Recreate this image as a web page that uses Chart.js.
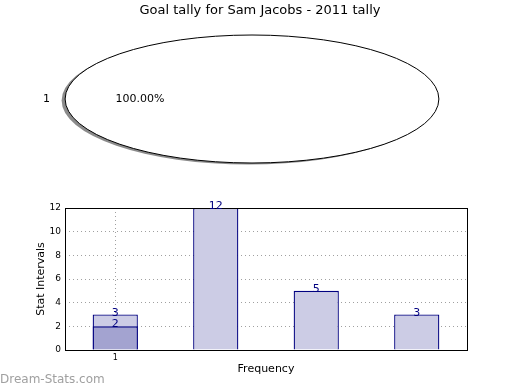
<!DOCTYPE html>
<html>
<head>
<meta charset="utf-8">
<script src="https://cdn.jsdelivr.net/npm/chart.js@4/dist/chart.umd.min.js"></script>
<style>
  body { margin: 0; background: #fff; }
  #wrap { position: relative; width: 520px; height: 390px; }
  canvas { position: absolute; left: 0; top: 0; }
  #mark { position: absolute; left: 0; top: 372px; font: 12px "DejaVu Sans", sans-serif; color: #a0a0a0; }
</style>
</head>
<body>
<div id="wrap">
  <canvas id="pie" width="520" height="390"></canvas>
  <canvas id="bars" width="520" height="390"></canvas>
  <div id="mark">Dream-Stats.com</div>
</div>
<script>
// pie data
const chartTitle = 'Goal tally for Sam Jacobs - 2011 tally';
const pieLabels = ['1'];
const pieValues = [1];

// bar data
const categories = ['1', '2', '3', '4'];
const tickLabels = ['1']; // only the first position carries a tick
const totals = [3, 12, 5, 3];
const overlay = [2, null, null, null];

const FONT = '"DejaVu Sans", sans-serif';
const sx = 2.92; // horizontal stretch of the pie

// stretch the pie into an ellipse, with a shadow and thin outline
const ellipsePie = {
  id: 'ellipsePie',
  beforeDatasetsDraw(chart) {
    const arc = chart.getDatasetMeta(0).data[0];
    const ctx = chart.ctx;
    ctx.save();
    ctx.fillStyle = 'rgba(110,110,110,0.8)';
    ctx.beginPath();
    ctx.ellipse(arc.x - 3.5, arc.y + 1.5, arc.outerRadius * sx, arc.outerRadius, 0, 0, Math.PI * 2);
    ctx.fill();
    ctx.restore();
    ctx.save();
    ctx.translate(arc.x, arc.y);
    ctx.scale(sx, 1);
    ctx.translate(-arc.x, -arc.y);
  },
  afterDatasetsDraw(chart) {
    const ctx = chart.ctx;
    ctx.restore();
    const meta = chart.getDatasetMeta(0);
    const arc = meta.data[0];
    ctx.save();
    ctx.strokeStyle = '#000';
    ctx.lineWidth = 1;
    ctx.beginPath();
    ctx.ellipse(arc.x, arc.y, arc.outerRadius * sx, arc.outerRadius, 0, 0, Math.PI * 2);
    ctx.stroke();
    // labels like matplotlib: name outside, percent inside
    const total = pieValues.reduce((a, b) => a + b, 0);
    ctx.fillStyle = '#000';
    ctx.font = '11px ' + FONT;
    ctx.textAlign = 'center';
    ctx.textBaseline = 'middle';
    meta.data.forEach((el, i) => {
      const mid = (el.startAngle + el.endAngle) / 2;
      const r = el.outerRadius;
      ctx.fillText(pieLabels[i], el.x + Math.cos(mid) * r * 1.1 * sx, el.y + Math.sin(mid) * r * 1.1);
      const pct = (pieValues[i] / total * 100).toFixed(2) + '%';
      ctx.fillText(pct, el.x + Math.cos(mid) * r * 0.6 * sx, el.y + Math.sin(mid) * r * 0.6);
    });
    // figure title, centred on the whole canvas
    ctx.font = '13px ' + FONT;
    ctx.fillText(chartTitle, chart.width / 2, 10.5);
    ctx.restore();
  }
};

new Chart(document.getElementById('pie'), {
  type: 'pie',
  data: {
    labels: pieLabels,
    datasets: [{ data: pieValues, backgroundColor: '#ffffff', borderWidth: 0 }]
  },
  options: {
    responsive: false,
    animation: false,
    rotation: 90,
    layout: { padding: { top: 35, bottom: 227, left: 0, right: 16 } },
    plugins: {
      legend: { display: false },
      tooltip: { enabled: false },
      title: { display: false }
    }
  },
  plugins: [ellipsePie]
});

// box round the plot and value labels on the bars
const barExtras = {
  id: 'barExtras',
  afterDatasetsDraw(chart) {
    const ctx = chart.ctx;
    const a = chart.chartArea;
    ctx.save();
    ctx.strokeStyle = '#000';
    ctx.lineWidth = 1;
    ctx.strokeRect(Math.round(a.left) + 0.5, Math.round(a.top) + 0.5, Math.round(a.right - a.left), Math.round(a.bottom - a.top));
    ctx.fillStyle = '#000080';
    ctx.font = '11px ' + FONT;
    ctx.textAlign = 'center';
    ctx.textBaseline = 'alphabetic';
    chart.data.datasets.forEach((ds, di) => {
      chart.getDatasetMeta(di).data.forEach((el, i) => {
        if (ds.data[i] == null) return;
        ctx.fillText(String(ds.data[i]), el.x, el.y + 1);
      });
    });
    ctx.restore();
  }
};

new Chart(document.getElementById('bars'), {
  type: 'bar',
  data: {
    labels: categories,
    datasets: [
      { label: 'overlay', data: overlay, backgroundColor: '#a3a3d0', borderColor: '#000080', borderWidth: 1.3, order: 1 },
      { label: 'total', data: totals, backgroundColor: '#ccccE5', borderColor: '#000080', borderWidth: 1.3, order: 2 }
    ]
  },
  options: {
    responsive: false,
    animation: false,
    barPercentage: 0.45,
    categoryPercentage: 1,
    layout: { padding: { top: 208, right: 53, bottom: 10, left: 32 } },
    plugins: { legend: { display: false }, tooltip: { enabled: false } },
    scales: {
      x: {
        stacked: true,
        afterFit(scale) { scale.height = 30; },
        border: { display: false, dash: [1, 3] },
        grid: {
          offset: false,
          drawTicks: false,
          color: ctx => (tickLabels[ctx.index] ? '#a0a0a0' : 'rgba(0,0,0,0)')
        },
        ticks: {
          padding: 3,
          color: '#000',
          font: { family: FONT, size: 8 },
          callback: (v, i) => tickLabels[i] || ''
        },
        title: { display: true, text: 'Frequency', color: '#000', font: { family: FONT, size: 11 }, padding: 4 }
      },
      y: {
        min: 0,
        max: 12,
        afterFit(scale) { scale.width = 33; },
        border: { display: false, dash: [1, 3] },
        grid: { drawTicks: false, color: '#a0a0a0' },
        ticks: { stepSize: 2, padding: 4, color: '#000', font: { family: FONT, size: 9 } },
        title: { display: true, text: 'Stat Intervals', color: '#000', font: { family: FONT, size: 11 }, padding: 3 }
      }
    }
  },
  plugins: [barExtras]
});
</script>
</body>
</html>
